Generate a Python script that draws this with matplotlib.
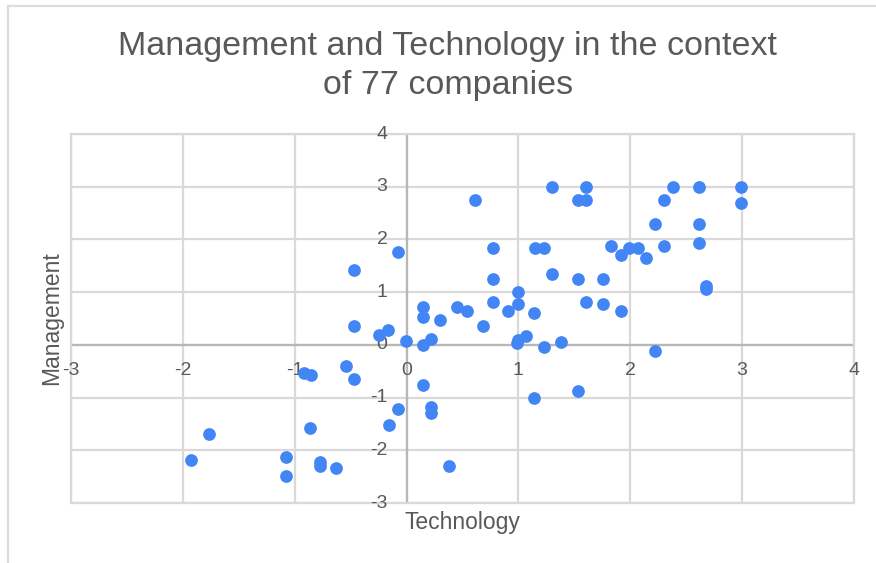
import matplotlib.pyplot as plt
from matplotlib.lines import Line2D

plt.switch_backend("AGG")

TITLE = "Management and Technology in the context\nof 77 companies"
X_LABEL = "Technology"
Y_LABEL = "Management"
X_TICKS = [-3, -2, -1, 0, 1, 2, 3, 4]
Y_TICKS = [-3, -2, -1, 0, 1, 2, 3, 4]

# values
technology = [
    -0.47, -0.08, -0.47, -0.245, -0.164, -0.006, 0.15, 0.15, 0.30, 0.15,
    0.22, 0.45, 0.61, 1.30, 1.60, 1.53, 1.60, 2.38, 2.61, 2.99,
    2.99, 2.30, 2.22, 2.61, 2.61, 2.30, 0.77, 1.15, 1.23, 1.83,
    1.92, 1.99, 2.07, 2.14, 0.77, 1.30, 1.53, 1.76, 2.68, 2.68,
    1.00, 1.00, 0.91, 0.77, 0.54, 0.68, 1.14, 1.60, 1.76, 1.92,
    1.00, 0.99, 1.07, 1.23, 1.38, 2.22, 0.15, 1.14, 1.53, 0.22,
    0.22, 0.38, -0.92, -0.85, -0.54, -0.47, -0.08, -0.16, -0.86, -1.77,
    -1.93, -1.08, -1.08, -0.77, -0.77, -0.63,
]
management = [
    1.42, 1.76, 0.35, 0.18, 0.29, 0.07, 0.71, 0.53, 0.47, -0.01,
    0.11, 0.71, 2.75, 3.00, 3.00, 2.75, 2.75, 3.00, 3.00, 3.00,
    2.70, 2.75, 2.29, 2.29, 1.93, 1.88, 1.83, 1.83, 1.83, 1.88,
    1.70, 1.83, 1.83, 1.65, 1.25, 1.35, 1.25, 1.25, 1.11, 1.06,
    1.00, 0.78, 0.64, 0.82, 0.64, 0.35, 0.60, 0.82, 0.78, 0.64,
    0.10, 0.04, 0.17, -0.05, 0.06, -0.11, -0.76, -1.01, -0.87, -1.18,
    -1.30, -2.29, -0.54, -0.58, -0.40, -0.65, -1.22, -1.52, -1.58, -1.69,
    -2.18, -2.12, -2.48, -2.22, -2.29, -2.34,
]

FONT = ["Liberation Sans", "DejaVu Sans"]
TEXT_COLOR = "#595959"
GRID_COLOR = "#d9d9d9"
AXIS_COLOR = "#b7b7b7"
DOT_COLOR = "#4285f4"

W, H = 876, 563
fig = plt.figure(figsize=(W / 100, H / 100), dpi=100)
fig.patch.set_facecolor("white")

# plot area in pixels
left, right, top, bottom = 71, 854, 134, 503
ax = fig.add_axes([left / W, 1 - bottom / H, (right - left) / W, (bottom - top) / H])

ax.set_xlim(X_TICKS[0], X_TICKS[-1])
ax.set_ylim(Y_TICKS[0], Y_TICKS[-1])
ax.set_xticks(X_TICKS)
ax.set_yticks(Y_TICKS)
ax.grid(True, color=GRID_COLOR, linewidth=1.6)
ax.set_axisbelow(True)
for side in ("top", "right", "bottom", "left"):
    ax.spines[side].set_color(GRID_COLOR)
    ax.spines[side].set_linewidth(1.6)
ax.tick_params(length=0, labelleft=False, labelbottom=False)

# zero lines
ax.axhline(0, color=AXIS_COLOR, linewidth=1.6, zorder=1.5)
ax.axvline(0, color=AXIS_COLOR, linewidth=1.6, zorder=1.5)

# tick labels beside the zero lines
for x in X_TICKS:
    ax.annotate(str(x), (x, 0), xytext=(0, -26), textcoords="offset pixels",
                ha="center", va="center", fontsize=14, color=TEXT_COLOR, family=FONT,
                annotation_clip=False)
for y in Y_TICKS:
    ax.annotate(str(y), (0, y), xytext=(-19, 0), textcoords="offset pixels",
                ha="right", va="center", fontsize=14, color=TEXT_COLOR, family=FONT,
                annotation_clip=False)

ax.scatter(technology, management, s=84, color=DOT_COLOR, linewidths=0, zorder=3, clip_on=False)

fig.text(448 / W, 1 - 66 / H, TITLE, ha="center", va="center", fontsize=24.5,
         color=TEXT_COLOR, family=FONT, linespacing=1.3)
fig.text(462 / W, 1 - 522 / H, X_LABEL, ha="center", va="center", fontsize=16.5,
         color=TEXT_COLOR, family=FONT)
fig.text(52 / W, 1 - 318 / H, Y_LABEL, ha="center", va="center", fontsize=16.5,
         color=TEXT_COLOR, family=FONT, rotation=90)

# light frame of the screenshot
fig.add_artist(Line2D([8 / W, 1], [1 - 6 / H, 1 - 6 / H], color="#dcdcdc", linewidth=1.6))
fig.add_artist(Line2D([8 / W, 8 / W], [0, 1 - 6 / H], color="#dcdcdc", linewidth=1.6))

fig.savefig("out.png", dpi=100)
